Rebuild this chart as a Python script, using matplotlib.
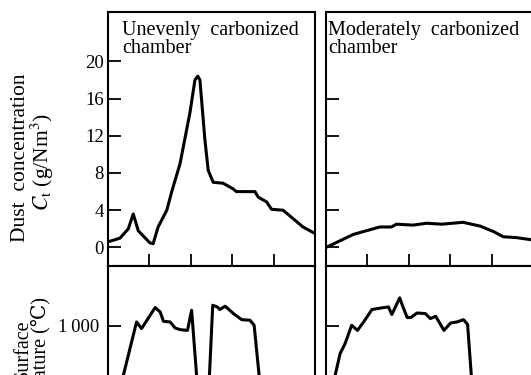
import matplotlib
matplotlib.use("Agg")
import matplotlib.pyplot as plt

plt.rcParams['font.family'] = ['Liberation Serif', 'DejaVu Serif']
plt.rcParams['mathtext.fontset'] = 'stix'

# ---- data ----
# Unevenly carbonized chamber, dust concentration (g/Nm3)
dust_uneven_x = [0.0, 0.29, 0.49, 0.61, 0.73, 1.01, 1.09, 1.21, 1.42, 1.54, 1.74, 1.98,
                 2.10, 2.17, 2.22, 2.34, 2.42, 2.54, 2.78, 3.02, 3.10, 3.55, 3.63, 3.83,
                 3.95, 4.23, 4.47, 4.71, 5.0]
dust_uneven_y = [0.6, 1.0, 2.0, 3.6, 1.8, 0.5, 0.4, 2.2, 4.0, 6.0, 9.0, 14.5,
                 18.0, 18.4, 18.0, 11.6, 8.3, 7.0, 6.9, 6.3, 6.0, 6.0, 5.4, 4.9,
                 4.1, 4.0, 3.1, 2.2, 1.5]
# Moderately carbonized chamber, dust concentration (g/Nm3)
dust_moderate_x = [0.0, 0.66, 1.3, 1.58, 1.7, 2.1, 2.43, 2.8, 3.31, 3.72, 4.05, 4.28, 4.61, 5.0]
dust_moderate_y = [0.0, 1.4, 2.2, 2.2, 2.5, 2.4, 2.6, 2.5, 2.7, 2.3, 1.7, 1.15, 1.05, 0.8]

# Surface temperature (deg C), unevenly carbonized chamber (two segments)
temp_uneven1_x = [0.25, 0.37, 0.69, 0.81, 1.14, 1.26, 1.34, 1.50, 1.62, 1.74, 1.92, 2.02, 2.14, 2.18]
temp_uneven1_y = [500, 673, 1027, 983, 1122, 1093, 1031, 1027, 987, 976, 971, 1104, 673, 500]
temp_uneven2_x = [2.43, 2.45, 2.53, 2.64, 2.70, 2.83, 3.03, 3.23, 3.43, 3.53, 3.65, 3.70]
temp_uneven2_y = [500, 673, 1137, 1126, 1109, 1131, 1082, 1042, 1038, 1005, 673, 500]
# Surface temperature (deg C), moderately carbonized chamber
temp_moderate_x = [0.17, 0.22, 0.34, 0.46, 0.62, 0.76, 0.91, 1.11, 1.35, 1.51, 1.59, 1.78,
                   1.86, 1.96, 2.05, 2.20, 2.40, 2.52, 2.65, 2.85, 3.01, 3.17, 3.32,
                   3.42, 3.51, 3.55]
temp_moderate_y = [500, 673, 817, 883, 1005, 971, 1027, 1109, 1120, 1126, 1076, 1186,
                   1126, 1056, 1056, 1086, 1082, 1049, 1064, 971, 1020, 1027, 1042,
                   1011, 673, 500]

dust_ticks = [0, 4, 8, 12, 16, 20]
dust_ticks_right = [0, 4, 8, 12, 16]
temp_ticks = [1000]
x_ticks = [1, 2, 3, 4]

W, H = 531, 375
fig = plt.figure(figsize=(W / 100, H / 100), dpi=100)

def ax_px(left, top, right, bottom):
    return fig.add_axes([left / W, 1 - bottom / H, (right - left) / W, (bottom - top) / H])

dust_lim = (-1.94, 25.3)
temp_lim = (400, 1400)
lw_line = 2.2
lw_spine = 1.5
fs_text = 14.5
fs_label = 15.5
fs_label2 = 14.5
fs_tick = 13.5

def style(ax):
    for s in ax.spines.values():
        s.set_linewidth(lw_spine)
    ax.tick_params(direction='in', length=9, width=1.3, labelsize=fs_tick, pad=3)
    ax.set_xlim(0, 5)

# Upper left
a1 = ax_px(108, 12, 315, 265.5)
style(a1)
a1.plot(dust_uneven_x, dust_uneven_y, color='black', lw=lw_line, solid_joinstyle='round')
a1.set_ylim(*dust_lim)
a1.set_yticks(dust_ticks)
a1.set_yticklabels([str(v) for v in dust_ticks])
a1.set_xticks(x_ticks)
a1.set_xticklabels([])
a1.text(0.07, 0.965, 'Unevenly  carbonized\nchamber', transform=a1.transAxes,
        ha='left', va='top', fontsize=fs_text, linespacing=0.95)

# Upper right
a2 = ax_px(326, 12, 533, 265.5)
style(a2)
a2.plot(dust_moderate_x, dust_moderate_y, color='black', lw=lw_line, solid_joinstyle='round')
a2.set_ylim(*dust_lim)
a2.set_yticks(dust_ticks_right)
a2.set_yticklabels([])
a2.set_xticks(x_ticks)
a2.set_xticklabels([])
a2.text(0.01, 0.965, 'Moderately  carbonized\nchamber', transform=a2.transAxes,
        ha='left', va='top', fontsize=fs_text, linespacing=0.95)

# Lower left
a3 = ax_px(108, 265.5, 315, 416.75)
style(a3)
a3.plot(temp_uneven1_x, temp_uneven1_y, color='black', lw=lw_line, solid_joinstyle='round')
a3.plot(temp_uneven2_x, temp_uneven2_y, color='black', lw=lw_line, solid_joinstyle='round')
a3.set_ylim(*temp_lim)
a3.set_yticks(temp_ticks)
a3.set_yticklabels(['1\u2009000'])
a3.tick_params(axis='y', pad=6)
a3.set_xticks([])

# Lower right
a4 = ax_px(326, 265.5, 533, 416.75)
style(a4)
a4.plot(temp_moderate_x, temp_moderate_y, color='black', lw=lw_line, solid_joinstyle='round')
a4.set_ylim(*temp_lim)
a4.set_yticks(temp_ticks)
a4.set_yticklabels([])
a4.set_xticks([])

# Y labels
fig.text(21 / W, 1 - 158 / H, 'Dust  concentration', rotation=90, ha='center', va='center',
         fontsize=fs_label)
fig.text(42 / W, 1 - 162 / H, r'$C_{\mathrm{t}}$ (g/Nm$^3$)', rotation=90, ha='center',
         va='center', fontsize=fs_label)
fig.text(23 / W, 1 - 319 / H, 'Surface', rotation=90, ha='center', va='top', fontsize=fs_label2)
fig.text(41 / W, 1 - 297 / H, 'temperature (\u2103)', rotation=90, ha='center', va='top',
         fontsize=fs_label2)

fig.savefig('out.png', dpi=100)
